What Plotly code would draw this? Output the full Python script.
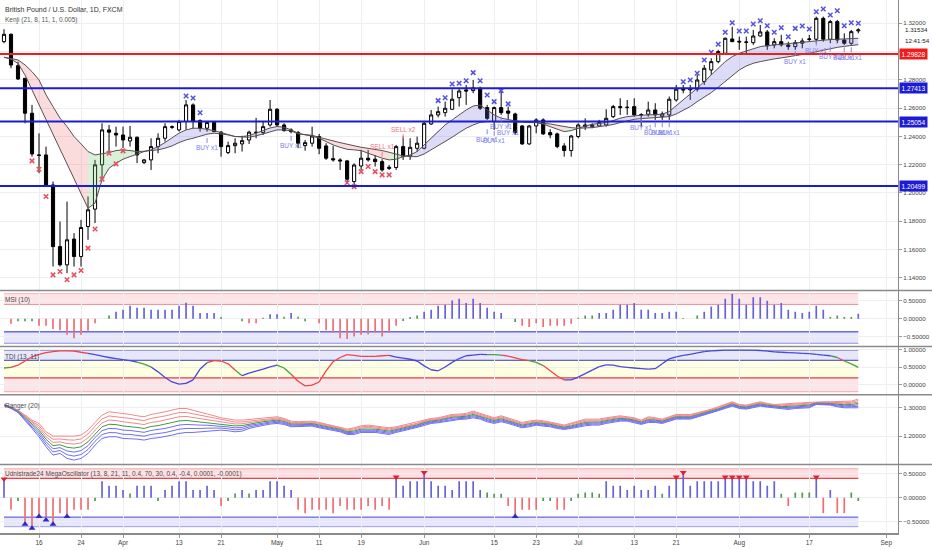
import numpy as np
import plotly.graph_objects as go

# ------------------------------------------------------------------ data
start_date = "2020-03-09"   # first daily bar (business days)

open_ = [1.3070,1.3122,1.2900,1.2811,1.2564,1.2269,1.2269,1.2057,1.1621,1.1492,
1.1674,1.1551,1.1763,1.1886,1.2199,1.2446,1.2422,1.2410,1.2368,1.2394,
1.2215,1.2234,1.2328,1.2387,1.2469,1.2446,1.2505,1.2623,1.2512,1.2458,
1.2500,1.2430,1.2286,1.2335,1.2347,1.2375,1.2430,1.2428,1.2481,1.2592,
1.2481,1.2446,1.2427,1.2335,1.2352,1.2399,1.2333,1.2243,1.2234,1.2227,
1.2081,1.2191,1.2246,1.2239,1.2222,1.2173,1.2180,1.2328,1.2262,1.2316,
1.2316,1.2488,1.2552,1.2568,1.2592,1.2674,1.2729,1.2724,1.2740,1.2604,
1.2505,1.2604,1.2580,1.2559,1.2474,1.2347,1.2474,1.2517,1.2427,1.2418,
1.2333,1.2300,1.2399,1.2469,1.2469,1.2474,1.2481,1.2540,1.2611,1.2604,
1.2611,1.2552,1.2557,1.2587,1.2540,1.2552,1.2658,1.2734,1.2729,1.2734,
1.2788,1.2870,1.2929,1.2988,1.3089,1.3073,1.3068,1.3063,1.3110,1.3139,
1.3047,1.3070,1.3047,1.3035,1.3059,1.3085,1.3087,1.3235,1.3087,1.3212,
1.3082,1.3059,1.3146]
high = [1.3158,1.3129,1.2929,1.2811,1.2623,1.2422,1.2328,1.2081,1.1798,1.1939,
1.1716,1.1810,1.1975,1.2234,1.2493,1.2481,1.2469,1.2469,1.2474,1.2399,
1.2241,1.2387,1.2422,1.2493,1.2478,1.2517,1.2658,1.2634,1.2521,1.2509,
1.2509,1.2439,1.2363,1.2387,1.2405,1.2441,1.2531,1.2505,1.2658,1.2600,
1.2493,1.2458,1.2439,1.2375,1.2469,1.2418,1.2352,1.2333,1.2246,1.2234,
1.2210,1.2305,1.2305,1.2269,1.2239,1.2198,1.2340,1.2399,1.2387,1.2399,
1.2505,1.2587,1.2611,1.2646,1.2733,1.2740,1.2764,1.2799,1.2752,1.2623,
1.2611,1.2717,1.2611,1.2568,1.2481,1.2481,1.2528,1.2528,1.2451,1.2427,
1.2352,1.2411,1.2493,1.2528,1.2493,1.2517,1.2592,1.2623,1.2670,1.2658,
1.2670,1.2564,1.2646,1.2635,1.2576,1.2682,1.2764,1.2764,1.2764,1.2835,
1.2905,1.2953,1.3012,1.3099,1.3176,1.3106,1.3106,1.3153,1.3188,1.3153,
1.3094,1.3118,1.3070,1.3082,1.3094,1.3118,1.3247,1.3247,1.3224,1.3224,
1.3129,1.3153,1.3165]
low = [1.3059,1.2882,1.2800,1.2493,1.2257,1.2140,1.2045,1.1480,1.1480,1.1433,
1.1480,1.1480,1.1669,1.1787,1.2093,1.2281,1.2328,1.2317,1.2328,1.2211,
1.2205,1.2163,1.2281,1.2363,1.2453,1.2434,1.2446,1.2458,1.2434,1.2434,
1.2434,1.2257,1.2274,1.2281,1.2293,1.2347,1.2387,1.2410,1.2469,1.2469,
1.2434,1.2422,1.2317,1.2299,1.2328,1.2274,1.2234,1.2222,1.2163,1.2069,
1.2034,1.2163,1.2222,1.2187,1.2151,1.2163,1.2163,1.2234,1.2234,1.2293,
1.2309,1.2481,1.2535,1.2540,1.2587,1.2611,1.2623,1.2705,1.2587,1.2517,
1.2446,1.2552,1.2521,1.2411,1.2340,1.2340,1.2422,1.2411,1.2387,1.2316,
1.2257,1.2257,1.2387,1.2446,1.2458,1.2469,1.2469,1.2529,1.2552,1.2552,
1.2540,1.2470,1.2540,1.2517,1.2517,1.2517,1.2646,1.2705,1.2658,1.2717,
1.2764,1.2835,1.2917,1.2988,1.3070,1.3012,1.2988,1.3047,1.3106,1.3012,
1.3023,1.3035,1.3012,1.3012,1.3023,1.3070,1.3059,1.3070,1.3059,1.3059,
1.3047,1.3047,1.3129]
close = [1.3122,1.2905,1.2806,1.2564,1.2276,1.2266,1.2057,1.1621,1.1492,1.1669,
1.1551,1.1756,1.1881,1.2199,1.2446,1.2430,1.2410,1.2375,1.2394,1.2269,
1.2234,1.2328,1.2387,1.2469,1.2465,1.2505,1.2623,1.2505,1.2458,1.2498,
1.2434,1.2328,1.2335,1.2352,1.2370,1.2430,1.2428,1.2469,1.2592,1.2481,
1.2441,1.2434,1.2352,1.2356,1.2403,1.2316,1.2246,1.2234,1.2227,1.2097,
1.2198,1.2246,1.2234,1.2222,1.2163,1.2182,1.2328,1.2258,1.2323,1.2352,
1.2493,1.2552,1.2575,1.2599,1.2663,1.2721,1.2721,1.2743,1.2599,1.2528,
1.2604,1.2568,1.2564,1.2427,1.2347,1.2474,1.2517,1.2418,1.2411,1.2328,
1.2300,1.2403,1.2481,1.2481,1.2481,1.2498,1.2528,1.2611,1.2604,1.2606,
1.2552,1.2554,1.2587,1.2552,1.2559,1.2663,1.2734,1.2729,1.2736,1.2799,
1.2882,1.2929,1.3000,1.3094,1.3070,1.3068,1.3066,1.3110,1.3139,1.3040,
1.3070,1.3047,1.3035,1.3063,1.3075,1.3089,1.3235,1.3087,1.3212,1.3082,
1.3059,1.3141,1.3153]

# Kenji (21, 8, 11, 1, 0.005): fast / slow lines
kenji_fast = [1.2960,1.2946,1.2917,1.2835,1.2729,1.2623,1.2517,1.2411,1.2317,1.2211,
1.2093,1.1987,1.1892,1.1928,1.2093,1.2175,1.2211,1.2239,1.2258,1.2277,
1.2293,1.2305,1.2328,1.2357,1.2387,1.2423,1.2446,1.2458,1.2458,1.2451,
1.2441,1.2427,1.2411,1.2399,1.2399,1.2406,1.2423,1.2439,1.2460,1.2470,
1.2465,1.2446,1.2423,1.2411,1.2403,1.2387,1.2363,1.2340,1.2323,1.2309,
1.2305,1.2300,1.2281,1.2262,1.2246,1.2234,1.2239,1.2257,1.2269,1.2293,
1.2340,1.2394,1.2441,1.2481,1.2517,1.2552,1.2587,1.2615,1.2622,1.2587,
1.2552,1.2529,1.2517,1.2510,1.2505,1.2498,1.2498,1.2488,1.2469,1.2450,
1.2434,1.2441,1.2458,1.2474,1.2486,1.2493,1.2498,1.2512,1.2529,1.2540,
1.2547,1.2550,1.2552,1.2554,1.2557,1.2576,1.2616,1.2658,1.2701,1.2741,
1.2788,1.2835,1.2882,1.2929,1.2964,1.2988,1.3004,1.3019,1.3035,1.3042,
1.3047,1.3052,1.3056,1.3061,1.3066,1.3073,1.3077,1.3082,1.3085,1.3087,
1.3089,1.3092,1.3094]
kenji_slow = [1.2960,1.2953,1.2941,1.2906,1.2858,1.2800,1.2694,1.2611,1.2529,1.2470,
1.2399,1.2347,1.2293,1.2269,1.2277,1.2286,1.2300,1.2305,1.2300,1.2293,
1.2295,1.2300,1.2305,1.2317,1.2333,1.2357,1.2375,1.2387,1.2404,1.2416,
1.2423,1.2418,1.2411,1.2399,1.2394,1.2394,1.2404,1.2418,1.2434,1.2446,
1.2446,1.2439,1.2418,1.2411,1.2408,1.2394,1.2380,1.2368,1.2356,1.2345,
1.2333,1.2323,1.2316,1.2309,1.2300,1.2288,1.2276,1.2262,1.2257,1.2257,
1.2276,1.2305,1.2333,1.2363,1.2394,1.2427,1.2458,1.2481,1.2500,1.2505,
1.2505,1.2505,1.2505,1.2505,1.2502,1.2500,1.2498,1.2495,1.2488,1.2479,
1.2469,1.2462,1.2458,1.2458,1.2462,1.2469,1.2474,1.2484,1.2498,1.2512,
1.2521,1.2526,1.2529,1.2531,1.2533,1.2540,1.2559,1.2583,1.2611,1.2646,
1.2675,1.2710,1.2748,1.2788,1.2828,1.2870,1.2898,1.2917,1.2929,1.2941,
1.2948,1.2955,1.2962,1.2969,1.2976,1.2988,1.2999,1.3011,1.3021,1.3030,
1.3037,1.3042,1.3049]

# Kenji "x" markers
down_x_idx = [4,5,6,7,8,9,10,11,12,13,14,15,16,17,49,50,51,52,53,54,55]
down_x_price = [1.2227,1.2168,1.1975,1.1421,1.1445,1.1386,1.1421,1.1452,1.1610,1.1746,
                1.2098,1.2281,1.2206,1.2298,1.2073,1.2045,1.2151,1.2187,1.2151,1.2128,1.2128]
up_x_idx = [26,27,28,62,63,64,65,66,67,68,69,70,71,72,
            97,98,99,100,101,102,103,104,105,106,107,108,109,110,
            111,112,113,114,115,116,117,118,119,120,121,122]
up_x_price = [1.2686,1.2672,1.2568,1.2653,1.2674,1.2771,1.2776,1.2794,1.2851,1.2794,
              1.2693,1.2646,1.2724,1.2630,
              1.2787,1.2799,1.2847,1.2941,1.2995,1.3052,1.3136,1.3204,1.3146,1.3146,
              1.3195,1.3218,1.3183,1.3136,1.3169,1.3105,1.3164,1.3181,1.3160,1.3282,
              1.3301,1.3259,1.3289,1.3183,1.3204,1.3200]

# Kenji signals
buy_idx = [29,41,69,70,71,72,91,93,94,95,113,116,118,120,121]
buy_price = [1.2396,1.2411,1.2458,1.2446,1.2547,1.2505,1.2540,1.2507,1.2507,1.2507,
             1.3011,1.3084,1.3042,1.3037,1.3037]
buy_text = "BUY x1"
sell_idx = [54,57]
sell_price = [1.2250,1.2373]
sell_text = ["SELL x1","SELL x2"]

# horizontal levels
level_values = [1.29828,1.27413,1.25054,1.20499]
level_kind = ["resistance","support","support","support"]
last_price = 1.31534
countdown = "12:41:54"

# MSI (10)
msi = [0.0,-0.14,-0.07,-0.07,-0.07,-0.19,-0.19,-0.28,-0.32,-0.44,
-0.54,-0.44,-0.33,-0.12,0.0,0.09,0.20,0.25,0.36,0.31,
0.31,0.25,0.25,0.25,0.25,0.36,0.45,0.36,0.16,0.16,
0.16,0.05,0.0,0.0,-0.07,-0.12,-0.12,0.03,0.13,0.13,
0.06,0.16,0.06,-0.07,0.0,-0.12,-0.32,-0.38,-0.54,-0.56,
-0.49,-0.44,-0.43,-0.38,-0.49,-0.38,-0.19,-0.06,0.05,0.09,
0.20,0.25,0.36,0.39,0.51,0.56,0.44,0.56,0.44,0.31,
0.20,0.16,0.0,-0.09,-0.19,-0.23,-0.12,-0.23,-0.19,-0.19,
-0.19,-0.14,0.03,0.09,0.09,0.16,0.16,0.25,0.39,0.39,
0.44,0.25,0.25,0.16,0.16,0.20,0.20,0.02,0.0,0.09,
0.20,0.34,0.39,0.56,0.69,0.56,0.39,0.60,0.60,0.50,
0.39,0.44,0.25,0.20,0.16,0.20,0.36,0.25,0.05,0.09,
0.05,0.05,0.14]

# TDI (13, 11)
tdi = [0.48,0.50,0.56,0.68,0.80,0.87,0.92,0.95,0.97,0.97,
0.96,0.93,0.90,0.86,0.82,0.78,0.75,0.72,0.69,0.65,
0.59,0.51,0.37,0.21,0.08,0.02,0.04,0.14,0.45,0.63,
0.69,0.68,0.60,0.42,0.26,0.33,0.39,0.45,0.51,0.56,
0.48,0.30,0.10,-0.03,-0.01,0.08,0.40,0.66,0.78,0.86,
0.84,0.81,0.81,0.81,0.83,0.84,0.79,0.76,0.73,0.68,
0.54,0.43,0.40,0.51,0.64,0.75,0.83,0.85,0.87,0.86,
0.86,0.85,0.82,0.77,0.72,0.69,0.64,0.55,0.40,0.25,
0.14,0.14,0.22,0.32,0.42,0.52,0.57,0.56,0.52,0.50,
0.48,0.46,0.45,0.46,0.60,0.74,0.80,0.84,0.87,0.91,
0.95,0.97,0.98,0.99,0.99,0.99,0.99,0.99,0.98,0.96,
0.94,0.93,0.92,0.91,0.90,0.89,0.87,0.85,0.83,0.78,
0.68,0.60,0.50]
tdi_state = ("gg" "rrrrrrrrrrr" "bbbbbbb" "gg" "bbbbbbbb" "rrrr" "g" "bbbbb" "gg"
             "rrrrrrrrrrrrrr" "bbbbbbbbbbbbbb" "gg" "rrrr" "gg" "rrr"
             "bbbbbbbbbbbbbbbbbbbbbbbbbbbbbbbbbbbbbb" "g" "r" "gg")

# Ranger (20): outer upper / outer lower band
ranger_upper = [1.3117,1.3035,1.2917,1.2740,1.2564,1.2446,1.2151,1.1998,1.1998,1.1998,
1.1998,1.2034,1.2210,1.2481,1.2740,1.2858,1.2835,1.2799,1.2764,1.2717,
1.2682,1.2764,1.2799,1.2858,1.2917,1.2976,1.2976,1.2917,1.2858,1.2799,
1.2717,1.2646,1.2599,1.2564,1.2564,1.2587,1.2599,1.2623,1.2646,1.2682,
1.2623,1.2528,1.2505,1.2528,1.2528,1.2481,1.2422,1.2387,1.2328,1.2246,
1.2293,1.2363,1.2387,1.2363,1.2328,1.2293,1.2328,1.2387,1.2422,1.2481,
1.2564,1.2623,1.2646,1.2717,1.2764,1.2776,1.2799,1.2882,1.2799,1.2717,
1.2646,1.2717,1.2646,1.2564,1.2481,1.2528,1.2564,1.2540,1.2505,1.2446,
1.2387,1.2446,1.2528,1.2599,1.2599,1.2599,1.2646,1.2682,1.2717,1.2682,
1.2646,1.2564,1.2682,1.2646,1.2599,1.2682,1.2764,1.2764,1.2764,1.2823,
1.2882,1.2952,1.3035,1.3117,1.3212,1.3117,1.3094,1.3153,1.3212,1.3153,
1.3117,1.3129,1.3153,1.3153,1.3176,1.3188,1.3212,1.3212,1.3212,1.3212,
1.3212,1.3235,1.3306]
ranger_lower = [1.3070,1.2976,1.2835,1.2564,1.2269,1.1975,1.1621,1.1327,1.1386,1.1209,
1.1150,1.1209,1.1386,1.1680,1.1916,1.1975,1.1975,1.1916,1.1916,1.1892,
1.1857,1.1916,1.1939,1.1975,1.2034,1.2093,1.2128,1.2128,1.2151,1.2175,
1.2199,1.2210,1.2187,1.2151,1.2175,1.2269,1.2328,1.2387,1.2422,1.2446,
1.2411,1.2328,1.2328,1.2352,1.2352,1.2293,1.2246,1.2210,1.2151,1.2057,
1.2057,1.2128,1.2128,1.2128,1.2093,1.2057,1.2128,1.2175,1.2246,1.2305,
1.2387,1.2446,1.2470,1.2505,1.2564,1.2587,1.2599,1.2646,1.2599,1.2505,
1.2446,1.2505,1.2446,1.2363,1.2293,1.2328,1.2387,1.2352,1.2328,1.2269,
1.2234,1.2269,1.2328,1.2363,1.2387,1.2387,1.2446,1.2481,1.2528,1.2528,
1.2481,1.2411,1.2481,1.2481,1.2446,1.2528,1.2599,1.2599,1.2599,1.2670,
1.2740,1.2811,1.2882,1.2976,1.3058,1.2976,1.2952,1.3011,1.3058,1.3023,
1.3000,1.2952,1.2941,1.2976,1.3000,1.3000,1.3117,1.3117,1.3094,1.3035,
1.3000,1.3000,1.3000]

# Udnistrade24 MegaOscillator
mega = [0.39,-0.25,-0.07,-0.55,-0.63,-0.39,-0.46,-0.55,-0.32,-0.39,
-0.25,-0.25,-0.25,-0.07,0.34,0.25,0.25,0.16,0.09,0.25,
0.25,0.25,-0.07,0.16,0.25,0.34,0.34,0.16,0.16,0.25,
0.16,-0.17,-0.07,0.09,0.16,0.09,0.16,0.16,0.34,0.34,
0.25,0.16,-0.25,-0.32,-0.25,-0.25,-0.25,-0.32,-0.17,-0.25,
-0.25,-0.25,-0.17,-0.25,-0.17,-0.25,0.43,0.25,0.34,0.34,
0.52,0.34,0.25,0.25,0.16,0.34,0.34,0.34,0.16,0.11,
0.08,0.08,-0.17,-0.39,-0.25,-0.25,-0.25,-0.07,-0.07,-0.25,
-0.25,-0.07,0.08,0.11,0.11,0.08,0.34,0.25,0.25,0.16,
0.25,0.16,0.16,0.25,0.08,0.25,0.43,0.52,0.25,0.34,
0.34,0.34,0.34,0.43,0.43,0.43,0.43,0.34,0.34,0.25,
0.34,0.08,-0.17,0.11,0.11,0.11,0.43,-0.32,0.16,-0.32,
-0.32,0.11,-0.07]

tick_dates = ["2020-03-16","2020-03-24","2020-04-01","2020-04-13","2020-04-21",
              "2020-05-01","2020-05-11","2020-05-19","2020-06-01","2020-06-15",
              "2020-06-23","2020-07-01","2020-07-13","2020-07-21","2020-08-03",
              "2020-08-17","2020-09-01"]
tick_labels = ["16","24","Apr","13","21","May","11","19","Jun","15","23","Jul",
               "13","21","Aug","17","Sep"]

n = len(close)
for arr in (open_, high, low, kenji_fast, kenji_slow, msi, tdi, ranger_upper,
            ranger_lower, mega):
    assert len(arr) == n
assert len(tdi_state) == n
idx = list(range(n))
tick_pos = [int(np.busday_count(start_date, d)) for d in tick_dates]

# ------------------------------------------------------------------ layout geometry
W, H = 932, 550
PLOT_R = 897.7           # right edge of plot area (px)
PLOT_B = 533.3           # bottom edge of plot area (px)
BAR_PX, X0_PX = 7.0, 4.0
bounds = [0, 290.7, 346.7, 395.0, 464.7, PLOT_B]


def dom(i):
    return [1 - bounds[i + 1] / PLOT_B, 1 - bounds[i] / PLOT_B]


def yr(val, px, ppu, i):
    """axis range so that value `val` sits at pixel row `px` with `ppu` px per unit"""
    return [val - (bounds[i + 1] - px) / ppu, val + (px - bounds[i]) / ppu]


x_range = [(0 - X0_PX) / BAR_PX, (PLOT_R - X0_PX) / BAR_PX]
FONT = "Liberation Sans, Arial, sans-serif"
GRID = "#eceef2"

RED_FILL = "rgba(242,54,69,0.13)"
BLUE_FILL = "rgba(40,40,230,0.11)"

fig = go.Figure()

# ------------------------------------------------------------------ main panel
# Kenji fill between fast & slow lines, coloured by regime
def regime(i):
    if kenji_fast[i + 1] > kenji_slow[i + 1]:
        return "up"
    return "rise" if kenji_fast[i + 1] >= kenji_fast[i] else "fall"

fill_col = {"up": "rgba(110,110,225,0.24)", "rise": "rgba(110,200,110,0.26)",
            "fall": "rgba(235,120,120,0.26)"}
segs = [regime(i) for i in range(n - 1)]
start = 0
for i in range(1, n):
    if i == n - 1 or segs[i] != segs[start]:
        a, b = start, i
        xs = idx[a:b + 1] + idx[a:b + 1][::-1]
        ys = kenji_fast[a:b + 1] + kenji_slow[a:b + 1][::-1]
        fig.add_trace(go.Scatter(x=xs, y=ys, fill="toself", mode="none",
                                 fillcolor=fill_col[segs[start]], hoverinfo="skip",
                                 showlegend=False, xaxis="x", yaxis="y"))
        start = i

for ln in (kenji_slow, kenji_fast):
    fig.add_trace(go.Scatter(x=idx, y=ln, mode="lines",
                             line=dict(color="#5b4f4f", width=1),
                             hoverinfo="skip", showlegend=False, xaxis="x", yaxis="y"))

fig.add_trace(go.Candlestick(
    x=idx, open=open_, high=high, low=low, close=close,
    increasing=dict(line=dict(color="#000000", width=1), fillcolor="#ffffff"),
    decreasing=dict(line=dict(color="#000000", width=1), fillcolor="#000000"),
    whiskerwidth=0, hoverinfo="skip", showlegend=False, xaxis="x", yaxis="y"))

fig.add_trace(go.Scatter(x=down_x_idx, y=down_x_price, mode="markers",
                         marker=dict(symbol="x-thin-open", size=4.5, color="#e8505c",
                                     line=dict(color="#e8505c", width=1.5)),
                         hoverinfo="skip", showlegend=False, xaxis="x", yaxis="y"))
fig.add_trace(go.Scatter(x=up_x_idx, y=up_x_price, mode="markers",
                         marker=dict(symbol="x-thin-open", size=4.5, color="#5252de",
                                     line=dict(color="#5252de", width=1.5)),
                         hoverinfo="skip", showlegend=False, xaxis="x", yaxis="y"))

# ------------------------------------------------------------------ MSI
def hist_colors(vals, thr=0.115):
    out = []
    for v in vals:
        if abs(v) < thr:
            out.append("#4f9a4f")
        elif v > 0:
            out.append("#6363dd")
        else:
            out.append("#f06c72")
    return out

fig.add_trace(go.Bar(x=idx, y=msi, width=0.24, marker=dict(color=hist_colors(msi), line=dict(width=0)),
                     hoverinfo="skip", showlegend=False, xaxis="x", yaxis="y2"))

# ------------------------------------------------------------------ TDI
tdi_colors = {"r": "#ef4444", "g": "#4a9e4a", "b": "#4747dd"}
for code, col in tdi_colors.items():
    xs, ys = [], []
    for i in range(n - 1):
        if tdi_state[i + 1] == code:
            xs += [idx[i], idx[i + 1], None]
            ys += [tdi[i], tdi[i + 1], None]
    fig.add_trace(go.Scatter(x=xs, y=ys, mode="lines", line=dict(color=col, width=1.3),
                             hoverinfo="skip", showlegend=False, xaxis="x", yaxis="y3"))

# ------------------------------------------------------------------ Ranger
ranger_cols = ["#f08a8a", "#f08a8a", "#f08a8a", "#3f9a3f", "#6f6ff0", "#6f6ff0", "#6f6ff0"]
for j, col in enumerate(ranger_cols):
    f = j / 6.0
    ys = [u - (u - l) * f for u, l in zip(ranger_upper, ranger_lower)]
    fig.add_trace(go.Scatter(x=idx, y=ys, mode="lines", line=dict(color=col, width=1),
                             hoverinfo="skip", showlegend=False, xaxis="x", yaxis="y4"))

# ------------------------------------------------------------------ MegaOscillator
fig.add_trace(go.Bar(x=idx, y=mega, width=0.24, marker=dict(color=hist_colors(mega, 0.12), line=dict(width=0)),
                     hoverinfo="skip", showlegend=False, xaxis="x", yaxis="y5"))
top_i = [i for i in idx if mega[i] >= 0.38]
bot_i = [i for i in idx if mega[i] <= -0.38]
fig.add_trace(go.Scatter(x=top_i, y=[mega[i] for i in top_i], mode="markers",
                         marker=dict(symbol="triangle-down", size=6, color="#e3202c"),
                         hoverinfo="skip", showlegend=False, xaxis="x", yaxis="y5"))
fig.add_trace(go.Scatter(x=bot_i, y=[mega[i] for i in bot_i], mode="markers",
                         marker=dict(symbol="triangle-up", size=6, color="#2a2ac8"),
                         hoverinfo="skip", showlegend=False, xaxis="x", yaxis="y5"))

# ------------------------------------------------------------------ shapes
shapes = []
level_col = {"resistance": "#ee1c1c", "support": "#1c1cd4"}
for v, k in zip(level_values, level_kind):
    shapes.append(dict(type="line", xref="paper", x0=0, x1=1, yref="y", y0=v, y1=v,
                       line=dict(color=level_col[k], width=2)))


def band(yref, lo, hi, fill, lo_line, hi_line, lo_w=1, hi_w=1):
    shapes.append(dict(type="rect", xref="x", x0=0, x1=n - 1, yref=yref, y0=lo, y1=hi,
                       fillcolor=fill, line=dict(width=0), layer="below"))
    shapes.append(dict(type="line", xref="x", x0=0, x1=n - 1, yref=yref, y0=lo, y1=lo,
                       line=dict(color=lo_line, width=lo_w), layer="below"))
    shapes.append(dict(type="line", xref="x", x0=0, x1=n - 1, yref=yref, y0=hi, y1=hi,
                       line=dict(color=hi_line, width=hi_w), layer="below"))

# MSI bands
band("y2", 0.4, 0.7, RED_FILL, "rgba(230,60,70,0.55)", "rgba(230,60,70,0.35)")
band("y2", -0.68, -0.36, BLUE_FILL, "rgba(60,60,215,0.55)", "rgba(60,60,215,0.75)", 1, 1.5)
# TDI bands
band("y3", 0.7, 1.0, BLUE_FILL, "#4646d6", "#5a5a9a", 1.3, 1.2)
band("y3", 0.2, 0.7, "rgba(255,255,120,0.22)", "rgba(0,0,0,0)", "rgba(0,0,0,0)")
band("y3", -0.2, 0.2, RED_FILL, "rgba(230,60,70,0.4)", "#e0404c", 1, 1.2)
# Mega bands
band("y5", 0.4, 0.6, "rgba(242,54,69,0.16)", "#e8454f", "rgba(230,60,70,0.4)", 1.1, 1)
band("y5", -0.6, -0.4, BLUE_FILL, "rgba(60,60,215,0.45)", "rgba(60,60,215,0.75)", 1, 1.3)

# panel separators
for b in bounds[1:5]:
    yp = 1 - b / PLOT_B
    shapes.append(dict(type="line", xref="paper", x0=0, x1=W / PLOT_R, yref="paper",
                       y0=yp, y1=yp, line=dict(color="#8a8a8a", width=1.5)))

# ------------------------------------------------------------------ annotations
ann = []
TXT = "#4a4a4a"


def side_label(text, px, size=6.5, color=TXT):
    ann.append(dict(text=text, xref="paper", yref="paper", x=0, xshift=3,
                    y=1 - px / PLOT_B, xanchor="left", yanchor="middle", showarrow=False,
                    font=dict(family=FONT, size=size, color=color)))

side_label("British Pound / U.S. Dollar, 1D, FXCM", 10, 7, "#333333")
side_label("Kenji (21, 8, 11, 1, 0.005)", 20, 6.5, "#555555")
side_label("MSI (10)", 300.5)
side_label("TDI (13, 11)", 357)
side_label("Ranger (20)", 406)
side_label("Udnistrade24 MegaOscillator (13, 8, 21, 11, 0.4, 70, 30, 0.4, -0.4, 0.0001, -0.0001)", 474.5)

for v, k in zip(level_values, level_kind):
    ann.append(dict(text=f"{v:.5f}", xref="paper", x=1, xshift=1, xanchor="left",
                    yref="y", y=v, yanchor="middle", showarrow=False,
                    bgcolor=level_col[k], borderpad=1.6,
                    font=dict(family=FONT, size=6.5, color="#ffffff")))
ann.append(dict(text=f"{last_price:.5f}", xref="paper", x=1, xshift=5, xanchor="left",
                yref="y", y=last_price, yanchor="middle", showarrow=False,
                font=dict(family=FONT, size=6.2, color="#222222")))
ann.append(dict(text=countdown, xref="paper", x=1, xshift=5, xanchor="left",
                yref="y", y=last_price, yshift=-11, yanchor="middle", showarrow=False,
                font=dict(family=FONT, size=6.2, color="#222222")))

for i, p in zip(buy_idx, buy_price):
    ann.append(dict(text=buy_text, x=i, y=p, xref="x", yref="y", showarrow=True,
                    arrowhead=0, arrowwidth=1, arrowcolor="#8585ee", ax=0, ay=11,
                    standoff=1, font=dict(family=FONT, size=6.5, color="#7d7dec")))
for i, p, t in zip(sell_idx, sell_price, sell_text):
    ann.append(dict(text=t, x=i, y=p, xref="x", yref="y", showarrow=True,
                    arrowhead=0, arrowwidth=1, arrowcolor="#f07a84", ax=0, ay=-11,
                    standoff=1, font=dict(family=FONT, size=6.5, color="#f07080")))

# ------------------------------------------------------------------ axes
def yaxis(i, rng, tickvals, ticktext=None):
    d = dict(domain=dom(i), range=rng, anchor="x", side="right", showgrid=True,
             gridcolor=GRID, gridwidth=1, zeroline=False, showline=True,
             linecolor="#8a8a8a", linewidth=1, ticks="outside", ticklen=3,
             tickcolor="#9a9a9a", tickvals=tickvals, tickformat=".5f",
             tickfont=dict(family=FONT, size=6.2, color="#444444"), fixedrange=True)
    if ticktext is not None:
        d["ticktext"] = ticktext
    return d

main_ticks = [1.14, 1.16, 1.18, 1.20, 1.22, 1.24, 1.26, 1.28, 1.30, 1.32]
main_text = [f"{t:.5f}" if abs(t - 1.30) > 1e-9 else "" for t in main_ticks]

fig.update_layout(
    width=W, height=H,
    margin=dict(l=0, r=W - PLOT_R, t=0, b=H - PLOT_B),
    paper_bgcolor="#ffffff", plot_bgcolor="#ffffff",
    showlegend=False, hovermode=False, barmode="overlay", boxgap=0.36,
    font=dict(family=FONT, size=7, color="#444444"),
    xaxis=dict(domain=[0, 1], anchor="y5", range=x_range, tickvals=tick_pos,
               ticktext=tick_labels, showgrid=True, gridcolor=GRID, zeroline=False,
               showline=True, linecolor="#8a8a8a", linewidth=1.5, ticks="outside",
               ticklen=3, tickcolor="#9a9a9a",
               tickfont=dict(family=FONT, size=6.5, color="#444444"),
               rangeslider=dict(visible=False), fixedrange=True),
    yaxis=yaxis(0, yr(1.32, 23.3, 1415, 0), main_ticks, main_text),
    yaxis2=yaxis(1, yr(0.0, 319.0, 36.0, 1), [-0.5, 0.0, 0.5]),
    yaxis3=yaxis(2, yr(0.0, 385.0, 35.0, 2), [0.0, 0.5, 1.0]),
    yaxis4=yaxis(3, yr(1.30, 408.0, 283.0, 3), [1.2, 1.3]),
    yaxis5=yaxis(4, yr(0.0, 498.0, 48.3, 4), [-0.5, 0.0, 0.5]),
    shapes=shapes, annotations=ann,
)

fig.write_html("out.html", config={"staticPlot": True},
               post_script="document.body.style.margin='0px';")
